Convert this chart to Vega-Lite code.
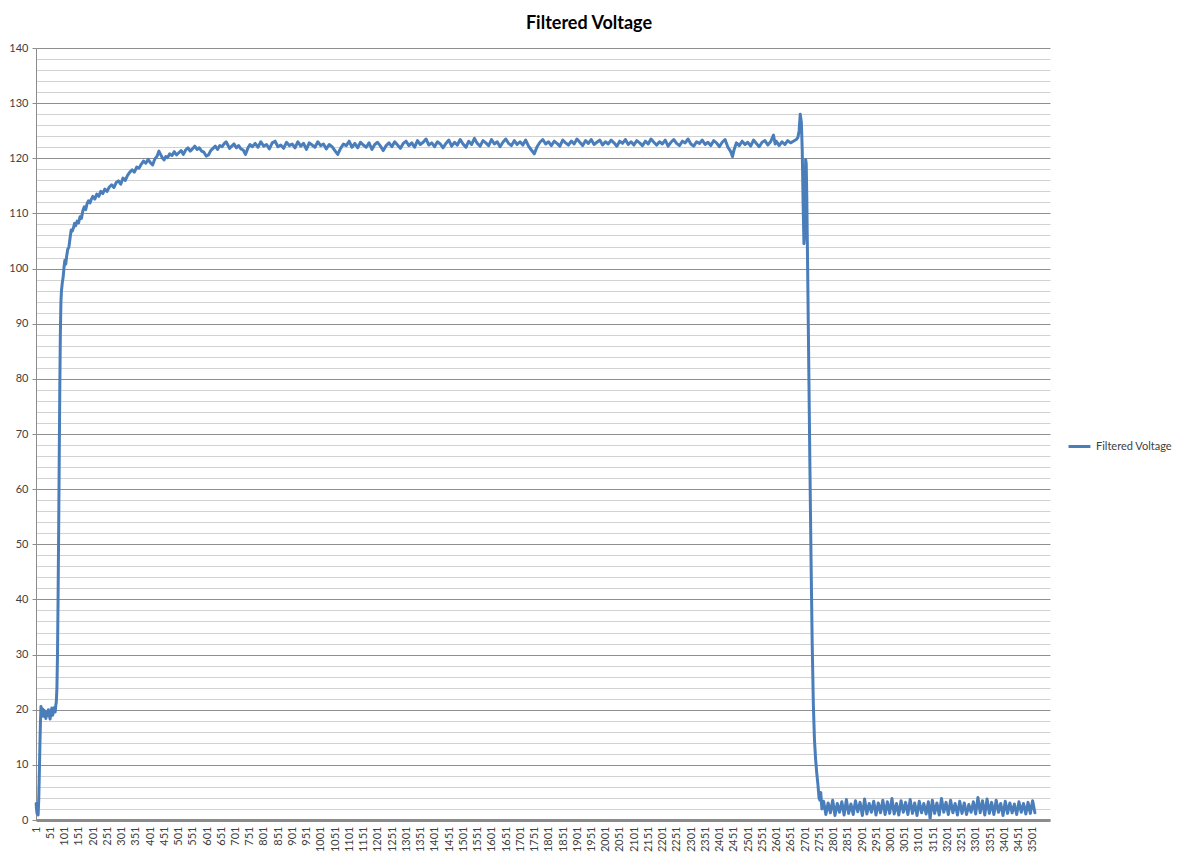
{
"$schema":"https://vega.github.io/schema/vega-lite/v6.json",
"width":1014,"height":772,
"autosize":{"type":"none"},
"padding":{"left":36,"top":48,"right":128,"bottom":39},
"background":"white",
"title":{"text":"Filtered Voltage","font":"Lato","fontSize":18,"fontWeight":"bold","color":"#000000","anchor":"middle","dx":46,"offset":9},
"config":{"view":{"stroke":null}},
"data":{"values":[
{"i":1,"v":3.0},{"i":2,"v":2.2},{"i":4,"v":1.2},{"i":6,"v":2.6},{"i":8,"v":0.9},{"i":10,"v":3.5},{"i":12,"v":8},{"i":14,"v":13},{"i":16,"v":17.5},{"i":18,"v":20.6},{"i":20,"v":19.3},{"i":23,"v":20.2},{"i":26,"v":18.8},{"i":29,"v":19.9},{"i":32,"v":19.1},{"i":35,"v":18.4},{"i":38,"v":19.6},{"i":41,"v":18.9},{"i":44,"v":20},{"i":47,"v":19.2},{"i":50,"v":18.3},{"i":53,"v":19.5},{"i":56,"v":20.3},{"i":59,"v":19},{"i":62,"v":19.8},{"i":65,"v":20.4},{"i":68,"v":19.6},{"i":70,"v":20.8},{"i":72,"v":21.5},{"i":74,"v":24},{"i":76,"v":30},{"i":78,"v":40},{"i":80,"v":52},{"i":82,"v":65},{"i":84,"v":78},{"i":86,"v":88},{"i":88,"v":94},{"i":90,"v":96},{"i":93,"v":97.5},{"i":96,"v":98.5},{"i":99,"v":100.3},{"i":102,"v":101.5},{"i":105,"v":100.8},{"i":108,"v":102.2},{"i":112,"v":103.5},{"i":116,"v":103.9},{"i":120,"v":105.5},{"i":124,"v":107},{"i":128,"v":106.8},{"i":132,"v":107.4},{"i":136,"v":108.2},{"i":140,"v":107.8},{"i":145,"v":108.6},{"i":150,"v":108.3},{"i":155,"v":109.4},{"i":160,"v":109.1},{"i":165,"v":110.5},{"i":170,"v":111.2},{"i":175,"v":110.7},{"i":180,"v":111.8},{"i":185,"v":112.3},{"i":190,"v":111.9},{"i":195,"v":112.6},{"i":200,"v":113.1},{"i":207,"v":112.6},{"i":214,"v":113.5},{"i":221,"v":113.1},{"i":228,"v":114},{"i":235,"v":113.6},{"i":242,"v":114.4},{"i":250,"v":114},{"i":258,"v":114.8},{"i":266,"v":115.2},{"i":274,"v":114.7},{"i":282,"v":115.6},{"i":290,"v":115.9},{"i":298,"v":115.3},{"i":306,"v":116.4},{"i":314,"v":116},{"i":322,"v":116.9},{"i":330,"v":117.5},{"i":338,"v":117.9},{"i":346,"v":117.5},{"i":354,"v":118.4},{"i":362,"v":118.2},{"i":370,"v":118.9},{"i":378,"v":119.5},{"i":386,"v":119.1},{"i":394,"v":119.8},{"i":402,"v":119.2},{"i":410,"v":118.8},{"i":418,"v":119.9},{"i":426,"v":120.4},{"i":432,"v":121.3},{"i":438,"v":120.7},{"i":444,"v":120.1},{"i":450,"v":119.7},{"i":456,"v":120.3},{"i":462,"v":120.1},{"i":470,"v":120.8},{"i":478,"v":120.5},{"i":486,"v":121.2},{"i":494,"v":120.6},{"i":502,"v":121},{"i":510,"v":121.4},{"i":518,"v":120.7},{"i":526,"v":121.5},{"i":534,"v":121.9},{"i":542,"v":121.3},{"i":550,"v":121.7},{"i":558,"v":122.2},{"i":566,"v":121.6},{"i":574,"v":121.9},{"i":582,"v":121.3},{"i":590,"v":121.1},{"i":598,"v":120.4},{"i":606,"v":120.6},{"i":614,"v":121.4},{"i":622,"v":121.8},{"i":630,"v":122.2},{"i":638,"v":121.6},{"i":646,"v":122.3},{"i":654,"v":122.1},{"i":662,"v":122.7},{"i":668,"v":123},{"i":674,"v":122.4},{"i":680,"v":121.8},{"i":688,"v":122.2},{"i":696,"v":122.6},{"i":704,"v":121.9},{"i":712,"v":122.3},{"i":720,"v":121.7},{"i":728,"v":121.5},{"i":736,"v":120.7},{"i":744,"v":121.8},{"i":752,"v":122.5},{"i":760,"v":122.1},
{"i":770,"v":122.7},{"i":780,"v":122.0},{"i":790,"v":123.0},{"i":800,"v":122.2},{"i":810,"v":122.5},{"i":820,"v":121.7},{"i":830,"v":122.8},{"i":840,"v":123.1},{"i":850,"v":122.1},{"i":860,"v":122.4},{"i":870,"v":121.8},{"i":880,"v":122.9},{"i":890,"v":122.3},{"i":900,"v":122.6},{"i":910,"v":121.9},{"i":920,"v":123.0},{"i":930,"v":122.2},{"i":940,"v":122.7},{"i":950,"v":121.6},{"i":960,"v":122.8},{"i":970,"v":122.4},{"i":980,"v":122.0},{"i":990,"v":123.0},{"i":1000,"v":122.3},{"i":1010,"v":122.6},{"i":1020,"v":121.7},{"i":1030,"v":122.5},{"i":1040,"v":122.1},{"i":1050,"v":121.4},{"i":1060,"v":120.7},{"i":1070,"v":121.8},{"i":1080,"v":122.6},{"i":1090,"v":122.3},{"i":1100,"v":123.1},{"i":1110,"v":122.0},{"i":1120,"v":122.7},{"i":1130,"v":121.9},{"i":1140,"v":122.9},{"i":1150,"v":122.4},{"i":1160,"v":122.0},{"i":1170,"v":122.8},{"i":1180,"v":121.6},{"i":1190,"v":122.5},{"i":1200,"v":122.9},{"i":1210,"v":122.2},{"i":1220,"v":121.4},{"i":1230,"v":122.3},{"i":1240,"v":122.8},{"i":1250,"v":122.1},{"i":1260,"v":123.0},{"i":1270,"v":122.4},{"i":1280,"v":121.8},{"i":1290,"v":122.7},{"i":1300,"v":123.1},{"i":1310,"v":122.3},{"i":1320,"v":122.8},{"i":1330,"v":122.0},{"i":1340,"v":123.2},{"i":1350,"v":122.5},{"i":1360,"v":122.9},{"i":1370,"v":123.5},{"i":1380,"v":122.4},{"i":1390,"v":122.8},{"i":1400,"v":122.1},{"i":1410,"v":123.0},{"i":1420,"v":122.6},{"i":1430,"v":121.9},{"i":1440,"v":122.7},{"i":1450,"v":123.3},{"i":1460,"v":122.2},{"i":1470,"v":122.9},{"i":1480,"v":122.4},{"i":1490,"v":123.4},{"i":1500,"v":122.6},{"i":1510,"v":122.0},{"i":1520,"v":123.1},{"i":1530,"v":122.5},{"i":1540,"v":123.6},{"i":1550,"v":122.7},{"i":1560,"v":122.2},{"i":1570,"v":123.2},{"i":1580,"v":122.8},{"i":1590,"v":122.3},{"i":1600,"v":123.4},{"i":1610,"v":122.6},{"i":1620,"v":123.0},{"i":1630,"v":122.1},{"i":1640,"v":122.9},{"i":1650,"v":123.5},{"i":1660,"v":122.7},{"i":1670,"v":122.3},{"i":1680,"v":123.2},{"i":1690,"v":122.5},{"i":1700,"v":123.0},{"i":1710,"v":122.4},{"i":1720,"v":123.3},{"i":1730,"v":122.2},{"i":1740,"v":121.5},{"i":1750,"v":120.8},{"i":1760,"v":122.1},{"i":1770,"v":122.9},{"i":1780,"v":123.4},{"i":1790,"v":122.6},{"i":1800,"v":123.0},{"i":1810,"v":122.3},{"i":1820,"v":123.1},{"i":1830,"v":122.7},{"i":1840,"v":122.2},{"i":1850,"v":123.3},{"i":1860,"v":122.8},{"i":1870,"v":122.4},{"i":1880,"v":123.1},{"i":1890,"v":122.6},{"i":1900,"v":123.5},{"i":1910,"v":122.9},{"i":1920,"v":122.3},{"i":1930,"v":123.2},{"i":1940,"v":122.7},{"i":1950,"v":123.4},{"i":1960,"v":122.5},{"i":1970,"v":122.9},{"i":1980,"v":123.3},{"i":1990,"v":122.4},{"i":2000,"v":123.0},{"i":2010,"v":122.6},{"i":2020,"v":123.3},{"i":2030,"v":122.8},{"i":2040,"v":122.2},{"i":2050,"v":123.1},{"i":2060,"v":122.7},{"i":2070,"v":123.4},{"i":2080,"v":122.5},{"i":2090,"v":123.0},{"i":2100,"v":122.4},{"i":2110,"v":123.2},{"i":2120,"v":122.8},{"i":2130,"v":122.3},{"i":2140,"v":123.1},{"i":2150,"v":122.6},{"i":2160,"v":123.5},{"i":2170,"v":122.9},{"i":2180,"v":122.4},{"i":2190,"v":123.0},{"i":2200,"v":122.6},{"i":2210,"v":123.3},{"i":2220,"v":122.2},{"i":2230,"v":122.9},{"i":2240,"v":123.4},{"i":2250,"v":122.7},{"i":2260,"v":122.3},{"i":2270,"v":123.1},{"i":2280,"v":122.8},{"i":2290,"v":123.5},{"i":2300,"v":122.6},{"i":2310,"v":122.2},{"i":2320,"v":123.0},{"i":2330,"v":122.7},{"i":2340,"v":123.3},{"i":2350,"v":122.5},{"i":2360,"v":122.9},{"i":2370,"v":122.3},{"i":2380,"v":123.2},{"i":2390,"v":122.8},{"i":2400,"v":122.1},{"i":2410,"v":122.9},{"i":2420,"v":123.4},{"i":2430,"v":122.0},{"i":2440,"v":121.2},{"i":2446,"v":120.3},{"i":2452,"v":121.6},{"i":2460,"v":122.8},{"i":2470,"v":122.3},{"i":2480,"v":123.1},{"i":2490,"v":122.5},{"i":2500,"v":122.9},{"i":2510,"v":122.2},{"i":2520,"v":123.3},{"i":2530,"v":122.7},{"i":2540,"v":122.1},{"i":2550,"v":122.9},{"i":2560,"v":123.2},{"i":2570,"v":122.4},{"i":2580,"v":123.0},{"i":2590,"v":124.2},{"i":2596,"v":122.6},{"i":2600,"v":123.1},{"i":2610,"v":122.3},{"i":2620,"v":123.0},{"i":2630,"v":122.5},{"i":2640,"v":123.2},{"i":2650,"v":122.8},{"i":2660,"v":123.1},{"i":2670,"v":123.4},{"i":2676,"v":123.8},{"i":2680,"v":125.0},{"i":2684,"v":128.0},{"i":2688,"v":126.5},{"i":2691,"v":121.5},{"i":2694,"v":112.0},{"i":2697,"v":104.5},{"i":2699,"v":106.0},{"i":2701,"v":113.0},{"i":2703,"v":119.8},{"i":2705,"v":119.0},{"i":2707,"v":113.0},{"i":2710,"v":100.0},{"i":2714,"v":82.0},{"i":2718,"v":64.0},{"i":2722,"v":47.0},{"i":2726,"v":32.0},{"i":2730,"v":21.0},{"i":2734,"v":14.5},{"i":2738,"v":11.0},{"i":2742,"v":8.5},{"i":2746,"v":6.5},{"i":2750,"v":4.0},{"i":2753,"v":3.6},{"i":2756,"v":5.0},{"i":2760,"v":2.0},
{"i":2766,"v":3.4},{"i":2774,"v":1.0},{"i":2782,"v":3.1},{"i":2790,"v":1.3},{"i":2798,"v":3.6},{"i":2806,"v":0.8},{"i":2814,"v":3.0},{"i":2822,"v":1.4},{"i":2830,"v":3.3},{"i":2838,"v":0.9},{"i":2846,"v":3.7},{"i":2854,"v":1.2},{"i":2862,"v":2.9},{"i":2870,"v":1.0},{"i":2878,"v":3.5},{"i":2886,"v":1.5},{"i":2894,"v":3.2},{"i":2902,"v":0.8},{"i":2910,"v":3.8},{"i":2918,"v":1.1},{"i":2926,"v":3.0},{"i":2934,"v":1.4},{"i":2942,"v":3.4},{"i":2950,"v":0.9},{"i":2958,"v":3.1},{"i":2966,"v":1.3},{"i":2974,"v":3.6},{"i":2982,"v":1.0},{"i":2990,"v":3.3},{"i":2998,"v":1.2},{"i":3006,"v":3.9},{"i":3014,"v":1.1},{"i":3022,"v":3.0},{"i":3030,"v":0.9},{"i":3038,"v":3.5},{"i":3046,"v":1.4},{"i":3054,"v":3.2},{"i":3062,"v":1.0},{"i":3070,"v":3.7},{"i":3078,"v":1.2},{"i":3086,"v":3.1},{"i":3094,"v":0.8},{"i":3102,"v":3.4},{"i":3110,"v":1.3},{"i":3118,"v":3.0},{"i":3126,"v":1.1},{"i":3134,"v":3.3},{"i":3140,"v":0.2},{"i":3148,"v":3.6},{"i":3156,"v":1.2},{"i":3164,"v":3.1},{"i":3172,"v":0.9},{"i":3180,"v":3.9},{"i":3188,"v":1.4},{"i":3196,"v":3.2},{"i":3204,"v":1.0},{"i":3212,"v":3.6},{"i":3220,"v":1.3},{"i":3228,"v":3.0},{"i":3236,"v":0.9},{"i":3244,"v":3.4},{"i":3252,"v":1.2},{"i":3260,"v":3.1},{"i":3268,"v":1.0},{"i":3276,"v":2.8},{"i":3284,"v":1.4},{"i":3292,"v":3.3},{"i":3300,"v":1.1},{"i":3308,"v":4.1},{"i":3316,"v":1.3},{"i":3324,"v":3.5},{"i":3332,"v":0.9},{"i":3340,"v":3.8},{"i":3348,"v":1.2},{"i":3356,"v":3.2},{"i":3364,"v":1.0},{"i":3372,"v":3.6},{"i":3380,"v":1.4},{"i":3388,"v":3.0},{"i":3396,"v":0.8},{"i":3404,"v":3.4},{"i":3412,"v":1.2},{"i":3420,"v":3.1},{"i":3428,"v":1.3},{"i":3436,"v":2.9},{"i":3444,"v":1.0},{"i":3452,"v":3.3},{"i":3460,"v":1.4},{"i":3468,"v":3.0},{"i":3476,"v":1.1},{"i":3484,"v":3.2},{"i":3492,"v":1.2},{"i":3500,"v":3.5},{"i":3508,"v":1.3}
]},
"mark":{"type":"line","strokeWidth":3,"strokeJoin":"round","strokeCap":"round"},
"encoding":{
"x":{"field":"i","type":"quantitative","title":null,
"scale":{"domain":[0.5,3561],"nice":false,"zero":false},
"axis":{"values":[1,51,101,151,201,251,301,351,401,451,501,551,601,651,701,751,801,851,901,951,1001,1051,1101,1151,1201,1251,1301,1351,1401,1451,1501,1551,1601,1651,1701,1751,1801,1851,1901,1951,2001,2051,2101,2151,2201,2251,2301,2351,2401,2451,2501,2551,2601,2651,2701,2751,2801,2851,2901,2951,3001,3051,3101,3151,3201,3251,3301,3351,3401,3451,3501],
"format":"d","labelAngle":-90,"grid":false,"ticks":false,"domainColor":"#8c8c8c","domainWidth":3,"labelFont":"Lato","labelFontSize":11,"labelColor":"#404040","labelPadding":6,"labelOverlap":false,"labelFlush":false,"zindex":1}},
"y":{"field":"v","type":"quantitative","title":null,
"scale":{"domain":[0,140],"nice":false,"zero":true},
"axis":{"values":[0,2,4,6,8,10,12,14,16,18,20,22,24,26,28,30,32,34,36,38,40,42,44,46,48,50,52,54,56,58,60,62,64,66,68,70,72,74,76,78,80,82,84,86,88,90,92,94,96,98,100,102,104,106,108,110,112,114,116,118,120,122,124,126,128,130,132,134,136,138,140],
"labelExpr":"datum.value % 10 === 0 ? datum.label : ''",
"grid":true,
"gridColor":{"condition":{"test":"datum.value % 10 === 0","value":"#8f8f8f"},"value":"#d2d2d2"},
"gridWidth":1,
"tickOpacity":{"condition":{"test":"datum.value % 10 === 0","value":1},"value":0},
"tickColor":"#8c8c8c","tickSize":4,
"domainColor":"#8c8c8c","labelFont":"Lato","labelFontSize":11,"labelColor":"#404040","labelPadding":4,"labelOverlap":false}},
"color":{"datum":"Filtered Voltage","type":"nominal","scale":{"range":["#4A7EBB"]},
"legend":{"orient":"none","legendX":1031,"legendY":386,"title":null,"labelFont":"Lato","labelFontSize":11,"labelColor":"#404040","symbolType":"stroke","symbolStrokeWidth":3,"symbolSize":480,"labelOffset":4,"padding":0}}
}
}
